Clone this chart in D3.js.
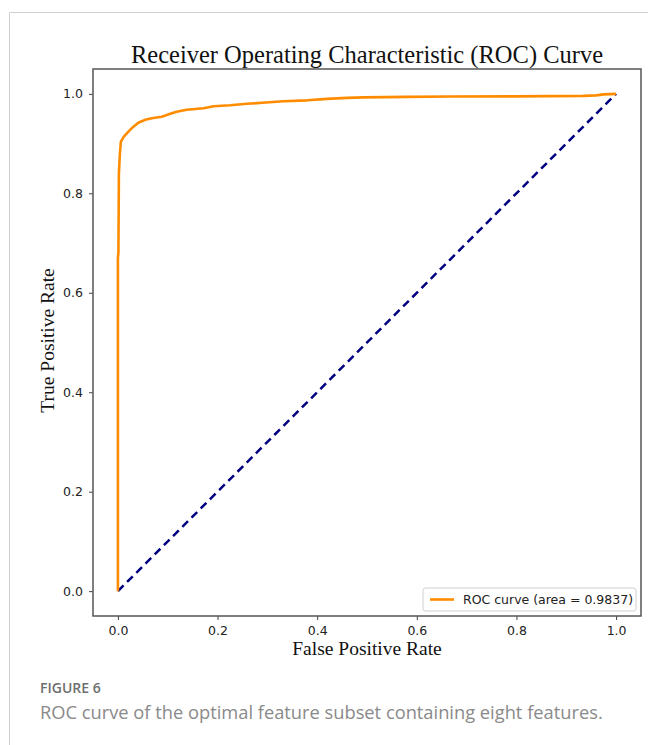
<!DOCTYPE html>
<html>
<head>
<meta charset="utf-8">
<script src="https://cdn.jsdelivr.net/npm/d3@7"></script>
<style>
  body { margin: 0; background: #fff; }
  svg { display: block; }
</style>
</head>
<body>
<div id="chart"></div>
<script>
// ROC curve points
var fpr = [0, 0, 0.001, 0.002, 0.004, 0.006, 0.012, 0.023, 0.03, 0.041, 0.055, 0.068, 0.088, 0.105, 0.118, 0.138, 0.172, 0.192, 0.225, 0.259, 0.29, 0.332, 0.38, 0.42, 0.46, 0.493, 0.58, 0.667, 0.8, 0.934, 0.96, 0.975, 1.0];
var tpr = [0, 0.67, 0.68, 0.84, 0.88, 0.904, 0.914, 0.926, 0.933, 0.942, 0.948, 0.951, 0.954, 0.96, 0.964, 0.968, 0.971, 0.975, 0.977, 0.98, 0.982, 0.985, 0.987, 0.99, 0.992, 0.993, 0.994, 0.9946, 0.995, 0.996, 0.997, 0.999, 1.0];
var diagonal = [0, 1];
var xTicks = [0, 0.2, 0.4, 0.6, 0.8, 1.0];
var yTicks = [0, 0.2, 0.4, 0.6, 0.8, 1.0];
var legendLabel = 'ROC curve (area = 0.9837)';

var W = 648, H = 745;
var margin = {left: 93, right: 7, top: 69, bottom: 129};
var plotW = W - margin.left - margin.right,
  plotH = H - margin.top - margin.bottom;

var svg = d3.select('#chart').append('svg')
  .attr('width', W)
  .attr('height', H);

// page frame (light gray edge of the figure box)
svg.append('path')
  .attr('d', 'M9.5,' + H + 'V12.5H' + W)
  .attr('fill', 'none')
  .attr('stroke', '#cfcfcf')
  .attr('stroke-width', 1);

var x = d3.scaleLinear().domain([-0.05, 1.05]).range([0, plotW]);
var y = d3.scaleLinear().domain([-0.05, 1.05]).range([plotH, 0]);

var g = svg.append('g')
  .attr('transform', 'translate(' + margin.left + ',' + margin.top + ')');

var xAxis = g.append('g')
  .attr('transform', 'translate(0,' + plotH + ')')
  .call(d3.axisBottom(x).tickValues(xTicks).tickFormat(d3.format('.1f')).tickSizeOuter(0).tickSize(4).tickPadding(6));

var yAxis = g.append('g')
  .call(d3.axisLeft(y).tickValues(yTicks).tickFormat(d3.format('.1f')).tickSizeOuter(0).tickSize(4).tickPadding(6));

[xAxis, yAxis].forEach(function(a) {
  a.select('.domain').remove();
  a.selectAll('line').attr('stroke', '#444');
  a.selectAll('text')
    .attr('fill', '#222')
    .style('font-family', 'DejaVu Sans, sans-serif')
    .style('font-size', '12.5px');
});

// curves
var line = d3.line()
  .x(function(d) { return x(d[0]); })
  .y(function(d) { return y(d[1]); });

g.append('path')
  .datum(diagonal.map(function(v) { return [v, v]; }))
  .attr('d', line)
  .attr('fill', 'none')
  .attr('stroke', 'navy')
  .attr('stroke-width', 2.5)
  .attr('stroke-dasharray', '8,5');

g.append('path')
  .datum(fpr.map(function(v, i) { return [v, tpr[i]]; }))
  .attr('d', line)
  .attr('fill', 'none')
  .attr('stroke', 'darkorange')
  .attr('stroke-width', 2.6)
  .attr('stroke-linejoin', 'round');

// frame around plot
g.append('rect')
  .attr('x', 0).attr('y', 0)
  .attr('width', plotW).attr('height', plotH)
  .attr('fill', 'none')
  .attr('stroke', '#555')
  .attr('stroke-width', 1.5);

// legend
var lg = g.append('g')
  .attr('transform', 'translate(' + (plotW - 218) + ',' + (plotH - 28) + ')');
lg.append('rect')
  .attr('width', 213).attr('height', 23)
  .attr('rx', 2.5)
  .attr('fill', '#fff')
  .attr('stroke', '#d0d0d0');
lg.append('line')
  .attr('x1', 7).attr('x2', 31)
  .attr('y1', 11.5).attr('y2', 11.5)
  .attr('stroke', 'darkorange')
  .attr('stroke-width', 2.6);
lg.append('text')
  .attr('x', 40).attr('y', 16)
  .style('font-family', 'DejaVu Sans, sans-serif')
  .style('font-size', '12.5px')
  .attr('fill', '#222')
  .text(legendLabel);

// titles
var serif = 'Liberation Serif, Times New Roman, serif';
svg.append('text')
  .attr('x', margin.left + plotW / 2).attr('y', 63)
  .attr('text-anchor', 'middle')
  .style('font-family', serif)
  .style('font-size', '24.5px')
  .attr('fill', '#111')
  .text('Receiver Operating Characteristic (ROC) Curve');

svg.append('text')
  .attr('x', margin.left + plotW / 2).attr('y', 655)
  .attr('text-anchor', 'middle')
  .style('font-family', serif)
  .style('font-size', '19.5px')
  .attr('fill', '#111')
  .text('False Positive Rate');

svg.append('text')
  .attr('transform', 'translate(54,' + (margin.top + plotH / 2 - 2) + ') rotate(-90)')
  .attr('text-anchor', 'middle')
  .style('font-family', serif)
  .style('font-size', '19.5px')
  .attr('fill', '#111')
  .text('True Positive Rate');

// caption
svg.append('text')
  .attr('x', 40).attr('y', 693)
  .style('font-family', 'Open Sans, sans-serif')
  .style('font-size', '14px')
  .style('font-weight', 600)
  .attr('fill', '#6e6e6e')
  .text('FIGURE 6');

svg.append('text')
  .attr('x', 40).attr('y', 719)
  .style('font-family', 'Open Sans, sans-serif')
  .style('font-size', '18.3px')
  .attr('fill', '#8a8a8a')
  .text('ROC curve of the optimal feature subset containing eight features.');
</script>
</body>
</html>
